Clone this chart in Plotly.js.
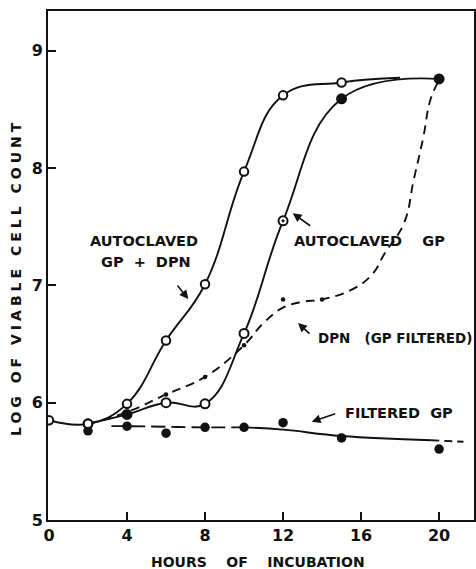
<!DOCTYPE html>
<html>
<head>
<meta charset="utf-8">
<script src="https://cdn.plot.ly/plotly-3.0.1.min.js"></script>
<style>
html, body { margin: 0; padding: 0; background: #fff; }
#chart { width: 476px; height: 569px; }
/* the vertical axis title is letter-spaced in the original lettering */
#chart g.annotation[data-index="6"] text { letter-spacing: 4px; }
</style>
</head>
<body>
<div id="chart"></div>
<script>
// ---- Data (hours, log viable cell count) ----
// Autoclaved GP + DPN (open circles, solid curve)
const gpDpnHours  = [0, 2, 4, 6, 8, 10, 12, 15];
const gpDpnLog    = [5.85, 5.82, 5.99, 6.53, 7.01, 7.97, 8.62, 8.73];
const gpDpnCurveHours = [0, 2, 4, 6, 8, 10, 12, 15, 18];
const gpDpnCurveLog   = [5.85, 5.82, 5.99, 6.53, 7.01, 7.97, 8.62, 8.73, 8.77];

// Autoclaved GP (solid curve)
const agpHours = [2, 4, 6, 8, 10, 12, 15, 20];
const agpLog   = [5.82, 5.90, 6.00, 5.99, 6.59, 7.55, 8.59, 8.76];
const agpMarkerSymbols = ['circle', 'circle', 'circle', 'circle', 'circle', 'circle-dot', 'circle', 'circle'];
const agpMarkerFill    = ['#fff', '#111', '#fff', '#fff', '#fff', '#fff', '#111', '#111'];

// DPN (GP filtered) (small dots, dashed curve)
const dpnHours = [6, 8, 10, 12, 14];
const dpnLog   = [6.07, 6.22, 6.49, 6.88, 6.88];
const dpnCurveHours = [2, 4, 6, 8, 10, 11, 12, 13, 14, 15.6, 16.6, 17.2, 18.2, 18.7, 19.2, 19.55, 20];
const dpnCurveLog   = [5.82, 5.92, 6.07, 6.22, 6.49, 6.68, 6.81, 6.86, 6.88, 6.97, 7.10, 7.27, 7.53, 7.90, 8.27, 8.58, 8.75];

// Filtered GP (solid dots, long-dash / solid fitted line)
const filtHours = [2, 4, 6, 8, 10, 12, 15, 20];
const filtLog   = [5.76, 5.80, 5.74, 5.79, 5.79, 5.83, 5.70, 5.605];
const filtDashHours  = [3.2, 4, 8, 10];
const filtDashLog    = [5.80, 5.80, 5.79, 5.79];
const filtSolidHours = [10, 12, 15, 19.6];
const filtSolidLog   = [5.79, 5.77, 5.716, 5.68];
const filtTailHours  = [19.6, 21.25];
const filtTailLog    = [5.68, 5.667];

// Tick labels
const xTicks = [0, 4, 8, 12, 16, 20];
const yTicks = [5, 6, 7, 8, 9];

const INK = '#111';
const FONT = 'DejaVu Sans, sans-serif';

const lineTrace = (x, y, dash, smooth) => ({
  x, y, type: 'scatter', mode: 'lines', hoverinfo: 'skip',
  line: { color: INK, width: 1.9, dash: dash, shape: smooth ? 'spline' : 'linear', smoothing: 1.2 },
  showlegend: false
});

const data = [
  lineTrace(gpDpnCurveHours, gpDpnCurveLog, 'solid', true),
  lineTrace(agpHours, agpLog, 'solid', true),
  lineTrace(dpnCurveHours, dpnCurveLog, '9px,6px', true),
  lineTrace(filtDashHours, filtDashLog, '14px,6px', true),
  lineTrace(filtSolidHours, filtSolidLog, 'solid', true),
  lineTrace(filtTailHours, filtTailLog, '8px,5px', false),
  { x: filtHours, y: filtLog, type: 'scatter', mode: 'markers', showlegend: false,
    marker: { symbol: 'circle', size: 9.5, color: INK, line: { width: 0 } } },
  { x: dpnHours, y: dpnLog, type: 'scatter', mode: 'markers', showlegend: false,
    marker: { symbol: 'circle', size: 4.5, color: INK, line: { width: 0 } } },
  { x: agpHours, y: agpLog, type: 'scatter', mode: 'markers', showlegend: false,
    marker: { symbol: agpMarkerSymbols, size: 9, color: agpMarkerFill, line: { color: INK, width: 2 } } },
  { x: gpDpnHours, y: gpDpnLog, type: 'scatter', mode: 'markers', showlegend: false,
    marker: { symbol: 'circle', size: 8.5, color: '#fff', line: { color: INK, width: 2 } } }
];

// pixel -> paper helpers for placing labels
const PX = v => (v - 48) / 426;
const PY = v => (520 - v) / 509;

const label = (text, xp, yp, size, extra) => Object.assign({
  text, x: PX(xp), y: PY(yp), xref: 'paper', yref: 'paper',
  showarrow: false, font: { family: FONT, size: size, color: INK, weight: 'bold' },
  xanchor: 'center', yanchor: 'middle'
}, extra || {});

const arrow = (xp, yp, ax, ay) => ({
  text: '', x: PX(xp), y: PY(yp), xref: 'paper', yref: 'paper',
  showarrow: true, arrowhead: 2, arrowsize: 1.1, arrowwidth: 1.6, arrowcolor: INK,
  ax: ax, ay: ay, standoff: 0
});

const layout = {
  width: 476, height: 569,
  margin: { l: 48, r: 2, t: 11, b: 49 },
  paper_bgcolor: '#fff', plot_bgcolor: '#fff',
  xaxis: {
    range: [-0.051, 21.79], tickvals: xTicks, ticktext: xTicks.map(String),
    ticks: 'inside', ticklen: 8, tickwidth: 2, tickcolor: INK,
    showline: true, linewidth: 2, linecolor: INK, mirror: true,
    showgrid: false, zeroline: false,
    tickfont: { family: FONT, size: 16, color: INK, weight: 'bold' }
  },
  yaxis: {
    range: [5, 9.339], tickvals: yTicks, ticktext: yTicks.map(String),
    ticks: 'inside', ticklen: 8, tickwidth: 2, tickcolor: INK,
    showline: true, linewidth: 2, linecolor: INK, mirror: true,
    showgrid: false, zeroline: false,
    tickfont: { family: FONT, size: 16, color: INK, weight: 'bold' }
  },
  annotations: [
    label('AUTOCLAVED', 144, 241, 14.5),
    label('GP  +  DPN', 146, 262, 14.5),
    label('AUTOCLAVED    GP', 369, 241, 14.5),
    label('DPN   (GP FILTERED)', 394.5, 338, 13.5),
    label('FILTERED  GP', 399, 413, 14.5),
    label('HOURS    OF    INCUBATION', 258, 562, 14),
    label('LOG OF VIABLE CELL COUNT', 16, 277, 14, { textangle: -90 }),
    arrow(188.3, 299, -12, -15),
    arrow(292.7, 213.3, 19, 13.5),
    arrow(298, 323, 13, 12),
    arrow(311.7, 421.7, 25, -8.5)
  ]
};

Plotly.newPlot('chart', data, layout, { staticPlot: true, displayModeBar: false });
</script>
</body>
</html>
